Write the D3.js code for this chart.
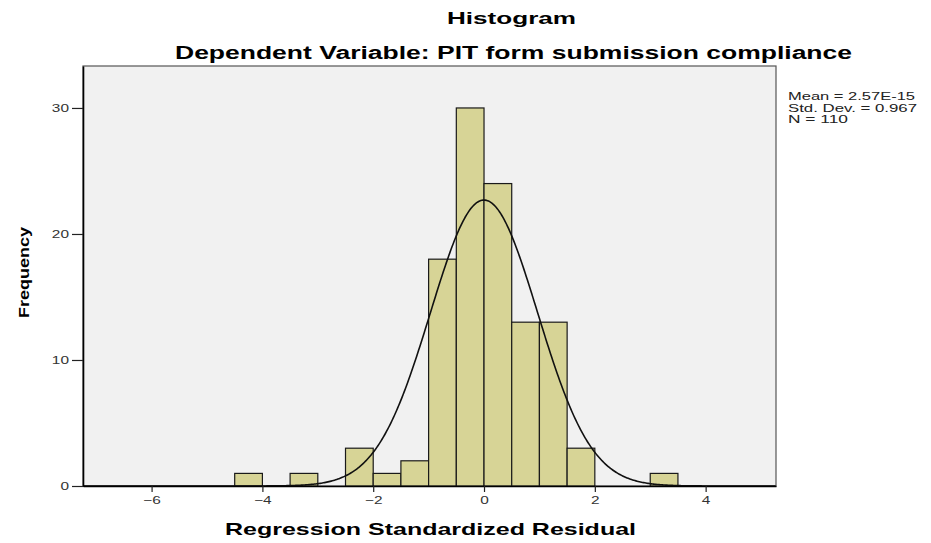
<!DOCTYPE html>
<html>
<head>
<meta charset="utf-8">
<script src="https://cdn.jsdelivr.net/npm/d3@7"></script>
<style>
  body { margin: 0; background: #fff; }
  svg text { font-family: "Liberation Sans", Arial, sans-serif; }
</style>
</head>
<body>
<svg id="chart" width="931" height="543"></svg>
<script>
// bins of the residual histogram (width 0.5)
let binStarts = [-4.5, -3.5, -2.5, -2, -1.5, -1, -0.5, 0, 0.5, 1, 1.5, 3];
let binCounts = [1, 1, 3, 1, 2, 18, 30, 24, 13, 13, 3, 1];
let binWidth = 0.5;
let xTicks = [-6, -4, -2, 0, 2, 4];
let yTicks = [0, 10, 20, 30];
let stats = { mean: 2.57e-15, sd: 0.967, n: 110 };
let statLines = ['Mean = 2.57E-15', 'Std. Dev. = 0.967', 'N = 110'];

let svg = d3.select('svg#chart');
let plot = { left: 83, right: 776, top: 66, bottom: 486 };

let x = d3.scaleLinear([-7.238, 5.27], [plot.left, plot.right]);
let y = d3.scaleLinear([0, 33.33], [plot.bottom, plot.top]);

// plot background + frame
svg.append('rect')
	.attr('x', plot.left).attr('y', plot.top)
	.attr('width', plot.right - plot.left).attr('height', plot.bottom - plot.top)
	.attr('fill', '#f1f1f1')
	.attr('stroke', '#555').attr('stroke-width', 1.2);

// bars
let bins = binStarts.map((s, i) => ({ x0: s, x1: s + binWidth, count: binCounts[i] }));
svg.append('g').selectAll('rect.bar')
	.data(bins)
	.join('rect')
	.attr('class', 'bar')
	.attr('x', d => x(d.x0))
	.attr('width', d => x(d.x1) - x(d.x0))
	.attr('y', d => y(d.count))
	.attr('height', d => y(0) - y(d.count))
	.attr('fill', '#d7d496')
	.attr('stroke', '#1a1a1a')
	.attr('stroke-width', 1.2);

// normal curve from mean / sd of the residuals
let scaleN = stats.n * binWidth / (stats.sd * Math.sqrt(2 * Math.PI));
let curvePts = d3.range(x.domain()[0], x.domain()[1], 0.02).map(v => [v, scaleN * Math.exp(-0.5 * Math.pow((v - stats.mean) / stats.sd, 2))]);
let line = d3.line().x(d => x(d[0])).y(d => y(d[1]));
svg.append('path')
	.datum(curvePts)
	.attr('d', line)
	.attr('fill', 'none')
	.attr('stroke', '#111')
	.attr('stroke-width', 1.6);

// axes
let stretch = 1.4;
let xAxis = svg.append('g')
	.attr('transform', 'translate(0,' + plot.bottom + ')')
	.call(d3.axisBottom(x).tickValues(xTicks).tickSize(6).tickSizeOuter(0).tickPadding(4).tickFormat(d3.format('d')));
let yAxis = svg.append('g')
	.attr('transform', 'translate(' + plot.left + ',0)')
	.call(d3.axisLeft(y).tickValues(yTicks).tickSize(11).tickSizeOuter(0).tickPadding(3).tickFormat(d3.format('d')));

[xAxis, yAxis].forEach(a => {
	a.select('.domain').attr('stroke', '#000').attr('stroke-width', 1.6);
	a.selectAll('.tick line').attr('stroke', '#222').attr('stroke-width', 1.2);
	a.selectAll('.tick text').attr('fill', '#333').attr('font-size', 11)
		.attr('font-family', '"Liberation Sans", Arial, sans-serif');
});
xAxis.selectAll('.tick text').attr('transform', 'scale(' + stretch + ',1)');
yAxis.selectAll('.tick text').attr('x', -14 / stretch).attr('transform', 'scale(' + stretch + ',1)');

// titles
svg.append('text')
	.attr('x', 447).attr('y', 24)
	.attr('font-size', 17).attr('font-weight', 'bold')
	.attr('textLength', 129).attr('lengthAdjust', 'spacingAndGlyphs')
	.text('Histogram');
svg.append('text')
	.attr('x', 175).attr('y', 59)
	.attr('font-size', 18).attr('font-weight', 'bold')
	.attr('textLength', 677).attr('lengthAdjust', 'spacingAndGlyphs')
	.text('Dependent Variable: PIT form submission compliance');
svg.append('text')
	.attr('x', 225).attr('y', 535)
	.attr('font-size', 17).attr('font-weight', 'bold')
	.attr('textLength', 411).attr('lengthAdjust', 'spacingAndGlyphs')
	.text('Regression Standardized Residual');
svg.append('text')
	.attr('transform', 'translate(29,318) rotate(-90)')
	.attr('font-size', 15).attr('font-weight', 'bold')
	.attr('textLength', 91).attr('lengthAdjust', 'spacingAndGlyphs')
	.text('Frequency');

// stats box text
let statWidths = [127, 129, 60];
svg.append('g').selectAll('text')
	.data(statLines)
	.join('text')
	.attr('x', 788)
	.attr('y', (d, i) => 100 + i * 11.5)
	.attr('font-size', 10.5)
	.attr('fill', '#222')
	.attr('textLength', (d, i) => statWidths[i])
	.attr('lengthAdjust', 'spacingAndGlyphs')
	.text(d => d);
</script>
</body>
</html>
